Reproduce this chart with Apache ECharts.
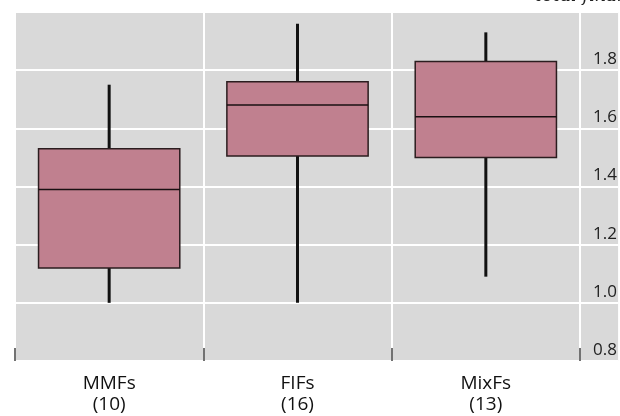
<!DOCTYPE html>
<html>
<head>
<meta charset="utf-8">
<script src="https://cdn.jsdelivr.net/npm/echarts@6/dist/echarts.min.js"></script>
<style>
html,body{margin:0;padding:0;background:#fff;}
#chart{width:620px;height:416px;}
</style>
</head>
<body>
<div id="chart"></div>
<script>
const names = ['MMFs', 'FIFs', 'MixFs'];
const counts = [10, 16, 13];
const mins = [1.00, 1.00, 1.09];
const q1s = [1.12, 1.505, 1.50];
const medians = [1.39, 1.68, 1.64];
const q3s = [1.53, 1.76, 1.83];
const maxs = [1.75, 1.96, 1.93];
const yTicks = [0.8, 1.0, 1.2, 1.4, 1.6, 1.8, 2.0];

const categories = names.map((n, i) => n + '\n(' + counts[i] + ')');
const boxData = names.map((n, i) => [i, mins[i], q1s[i], medians[i], q3s[i], maxs[i]]);

const chart = echarts.init(document.getElementById('chart'));
const FONT = '"Open Sans", "Noto Sans", sans-serif';
const yMin = yTicks[0], yMax = yTicks[yTicks.length - 1];

chart.setOption({
  animation: false,
  backgroundColor: '#ffffff',
  grid: [
    { left: 15, right: 0, top: 12, bottom: 55, show: true, backgroundColor: '#d9d9d9', borderWidth: 0 },
    { left: 15, right: 40, top: 12, bottom: 55 }
  ],
  graphic: [{
    type: 'text', left: 535, top: -13,
    style: { text: 'total financial assets', font: 'italic 18px "DejaVu Serif", "Liberation Serif", serif', fill: '#222' }
  }],
  xAxis: [
    { gridIndex: 0, type: 'value', show: false, min: 0, max: 1 },
    {
      gridIndex: 1,
      type: 'category',
      data: categories,
      boundaryGap: true,
      axisLine: { show: false },
      axisTick: { show: true, inside: true, length: 13, lineStyle: { color: '#444', width: 1.5 } },
      splitLine: { show: true, lineStyle: { color: '#ffffff', width: 2 } },
      axisLabel: { color: '#111', fontSize: 19, lineHeight: 21, margin: 12, fontFamily: FONT }
    }
  ],
  yAxis: [
    {
      gridIndex: 0,
      type: 'value',
      position: 'right',
      min: yMin, max: yMax, interval: 0.2,
      axisLine: { show: false },
      axisTick: { show: false },
      splitLine: { show: true, lineStyle: { color: '#ffffff', width: 2 } },
      axisLabel: {
        inside: true, align: 'left',
        showMaxLabel: false,
        color: '#222', fontSize: 17, fontFamily: FONT,
        margin: 25, verticalAlign: 'bottom', lineHeight: 22,
        formatter: v => v.toFixed(1)
      }
    },
    { gridIndex: 1, type: 'value', show: false, min: yMin, max: yMax, interval: 0.2 }
  ],
  series: [{
    type: 'custom',
    xAxisIndex: 1,
    yAxisIndex: 1,
    data: boxData,
    encode: { x: 0, y: [1, 2, 3, 4, 5] },
    renderItem: function (params, api) {
      const idx = api.value(0);
      const pMin = api.coord([idx, api.value(1)]);
      const pQ1 = api.coord([idx, api.value(2)]);
      const pMed = api.coord([idx, api.value(3)]);
      const pQ3 = api.coord([idx, api.value(4)]);
      const pMax = api.coord([idx, api.value(5)]);
      const bw = api.size([1, 0])[0] * 0.75;
      const cx = pMed[0];
      return {
        type: 'group',
        children: [
          { type: 'line', shape: { x1: cx, y1: pMin[1], x2: cx, y2: pMax[1] },
            style: { stroke: '#111', lineWidth: 3 } },
          { type: 'rect', shape: { x: cx - bw / 2, y: pQ3[1], width: bw, height: pQ1[1] - pQ3[1] },
            style: { fill: '#c0808f', stroke: '#2b1d1f', lineWidth: 1.5 } },
          { type: 'line', shape: { x1: cx - bw / 2, y1: pMed[1], x2: cx + bw / 2, y2: pMed[1] },
            style: { stroke: '#1a1012', lineWidth: 1.5 } }
        ]
      };
    }
  }]
});
</script>
</body>
</html>
